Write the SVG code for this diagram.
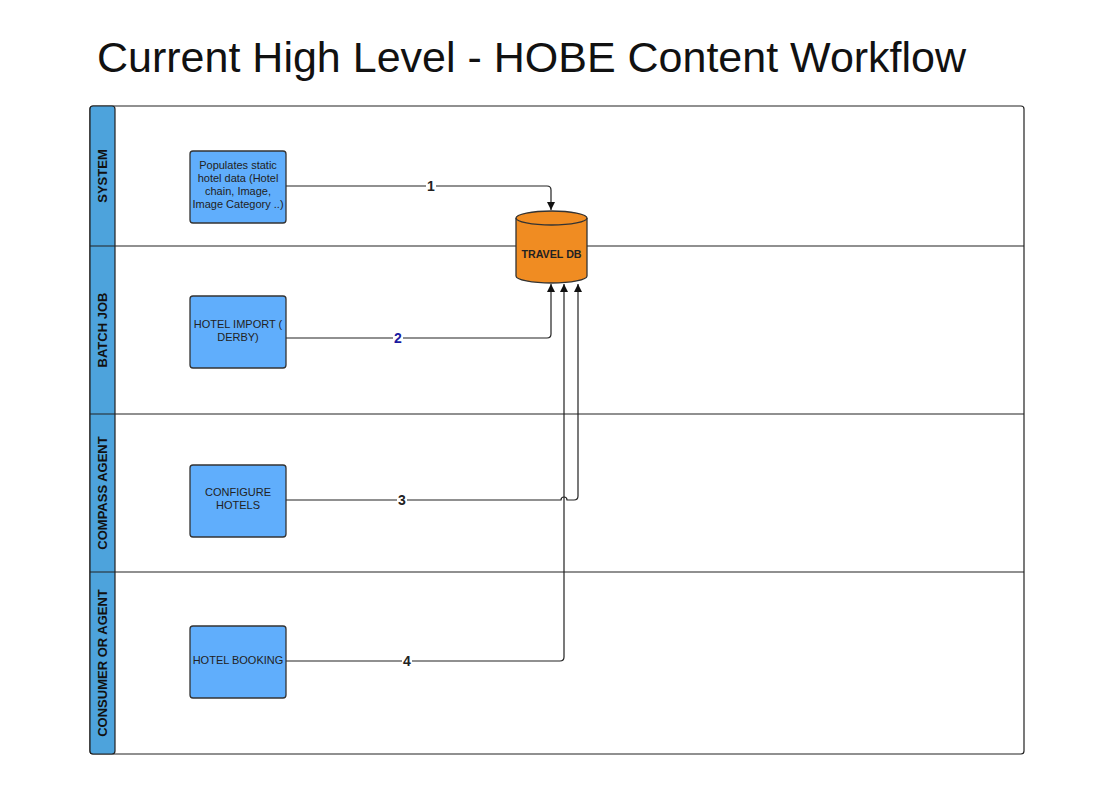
<svg xmlns="http://www.w3.org/2000/svg" width="1114" height="798" viewBox="0 0 1114 798">
<defs>
<style>
.lane{fill:#fff;stroke:#222;stroke-width:1.2}
.hdr{fill:#4da3dc;stroke:#222;stroke-width:1.2}
.hl{font-family:"Liberation Sans",Arial,sans-serif;font-weight:bold;font-size:13px;fill:#111;text-anchor:middle}
.node{fill:#60aefc;stroke:#333;stroke-width:1.3}
.nt{font-family:"Liberation Sans",Arial,sans-serif;font-size:11px;fill:#222;text-anchor:middle}
.conn{fill:none;stroke:#222;stroke-width:1.2}
.cl{font-family:"Liberation Sans",Arial,sans-serif;font-weight:bold;font-size:14px;fill:#222;text-anchor:middle}
</style>
<marker id="arr" viewBox="0 0 10 10" refX="10" refY="5" markerWidth="8" markerHeight="8" markerUnits="userSpaceOnUse" orient="auto"><path d="M0,0 L10,5 L0,10 z" fill="#111"/></marker>
</defs>
<rect width="1114" height="798" fill="#fff"/>
<text x="97" y="72" font-family="'Liberation Sans',Arial,sans-serif" font-size="43" fill="#111">Current High Level - HOBE Content Workflow</text>
<g id="lanes">
<rect class="lane" x="90" y="106" width="934" height="648" rx="3"/>
<rect class="hdr" x="90" y="106" width="25" height="648" rx="3"/>
<line x1="90" y1="246" x2="1024" y2="246" stroke="#222" stroke-width="1.2"/>
<line x1="90" y1="414" x2="1024" y2="414" stroke="#222" stroke-width="1.2"/>
<line x1="90" y1="572" x2="1024" y2="572" stroke="#222" stroke-width="1.2"/>
<text class="hl" transform="translate(107,176) rotate(-90)">SYSTEM</text>
<text class="hl" transform="translate(107,330) rotate(-90)">BATCH JOB</text>
<text class="hl" transform="translate(107,493) rotate(-90)">COMPASS AGENT</text>
<text class="hl" transform="translate(107,663) rotate(-90)">CONSUMER OR AGENT</text>
</g>
<g id="connectors">
<path class="conn" d="M286,186 H547 Q551,186 551,190 V210" marker-end="url(#arr)"/>
<path class="conn" d="M286,338 H547 Q551,338 551,334 V284" marker-end="url(#arr)"/>
<path class="conn" d="M286,500 H561 A3,3 0 0 1 567,500 H574 Q578,500 578,496 V284" marker-end="url(#arr)"/>
<path class="conn" d="M286,661 H560 Q564,661 564,657 V284" marker-end="url(#arr)"/>
<rect x="426" y="179" width="10" height="13" fill="#fff"/>
<text class="cl" x="431" y="191">1</text>
<rect x="393" y="330" width="10" height="14" fill="#fff"/>
<text class="cl" x="398" y="343" style="fill:#1a1aa0">2</text>
<rect x="397" y="492" width="10" height="14" fill="#fff"/>
<text class="cl" x="402" y="505">3</text>
<rect x="402" y="653" width="10" height="14" fill="#fff"/>
<text class="cl" x="407" y="666">4</text>
</g>
<g id="n1">
<rect class="node" x="190" y="151" width="96" height="72" rx="3"/>
<text class="nt" x="238" y="169">Populates static</text>
<text class="nt" x="238" y="182">hotel data (Hotel</text>
<text class="nt" x="238" y="195">chain, Image,</text>
<text class="nt" x="238" y="208">Image Category ..)</text>
</g>
<g id="n2">
<rect class="node" x="190" y="296" width="96" height="72" rx="3"/>
<text class="nt" x="238" y="328">HOTEL IMPORT (</text>
<text class="nt" x="238" y="341">DERBY)</text>
</g>
<g id="n3">
<rect class="node" x="190" y="465" width="96" height="72" rx="3"/>
<text class="nt" x="238" y="496">CONFIGURE</text>
<text class="nt" x="238" y="509">HOTELS</text>
</g>
<g id="n4">
<rect class="node" x="190" y="626" width="96" height="72" rx="3"/>
<text class="nt" x="238" y="664">HOTEL BOOKING</text>
</g>
<g id="db">
<path d="M516,218 V276 A35.5,7 0 0 0 587,276 V218 A35.5,7 0 0 0 516,218 Z" fill="#f08c22" stroke="#333" stroke-width="1.3"/>
<path d="M516,218 A35.5,7 0 0 0 587,218" fill="none" stroke="#333" stroke-width="1.3"/>
<text x="551.5" y="258" font-family="'Liberation Sans',Arial,sans-serif" font-weight="bold" font-size="10.7" fill="#222" text-anchor="middle">TRAVEL DB</text>
</g>
</svg>
